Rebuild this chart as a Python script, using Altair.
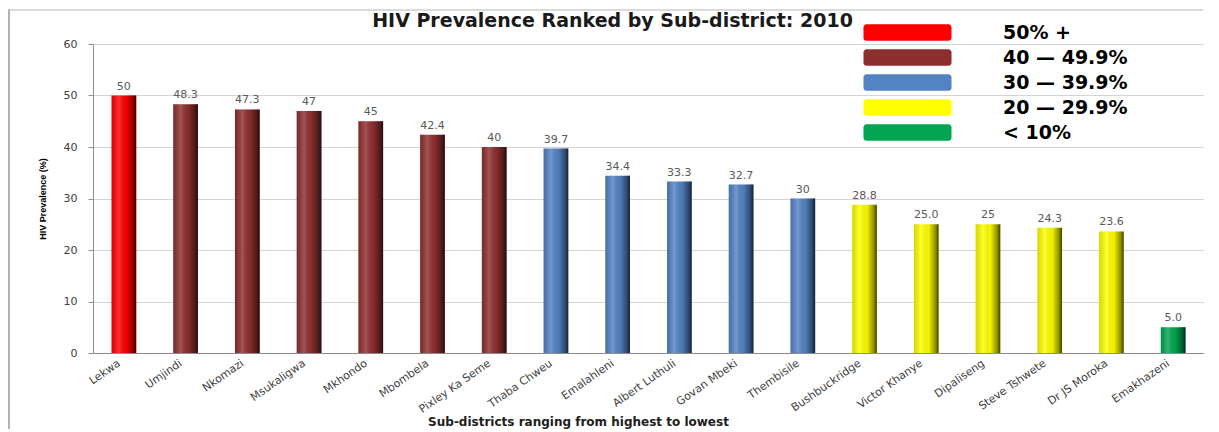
import altair as alt
import pandas as pd

districts = ["Lekwa", "Umjindi", "Nkomazi", "Msukaligwa", "Mkhondo", "Mbombela",
             "Pixley Ka Seme", "Thaba Chweu", "Emalahleni", "Albert Luthuli",
             "Govan Mbeki", "Thembisile", "Bushbuckridge", "Victor Khanye",
             "Dipaliseng", "Steve Tshwete", "Dr JS Moroka", "Emakhazeni"]
values = [50, 48.3, 47.3, 47, 45, 42.4, 40, 39.7, 34.4, 33.3, 32.7, 30,
          28.8, 25.0, 25, 24.3, 23.6, 5.0]
value_labels = ["50", "48.3", "47.3", "47", "45", "42.4", "40", "39.7", "34.4",
                "33.3", "32.7", "30", "28.8", "25.0", "25", "24.3", "23.6", "5.0"]
groups = ["50% +", "40 — 49.9%", "40 — 49.9%", "40 — 49.9%", "40 — 49.9%",
          "40 — 49.9%", "40 — 49.9%", "30 — 39.9%", "30 — 39.9%", "30 — 39.9%",
          "30 — 39.9%", "30 — 39.9%", "20 — 29.9%", "20 — 29.9%", "20 — 29.9%",
          "20 — 29.9%", "20 — 29.9%", "< 10%"]
legend_order = ["50% +", "40 — 49.9%", "30 — 39.9%", "20 — 29.9%", "< 10%"]
legend_colors = ["#FF0000", "#8E2F2F", "#5483C4", "#FFFF00", "#00A651"]
y_ticks = [0, 10, 20, 30, 40, 50, 60]

df = pd.DataFrame({"district": districts, "value": values,
                   "label": value_labels, "group": groups})

x = alt.X("district:N", sort=districts,
          scale=alt.Scale(paddingInner=0.6, paddingOuter=0.3),
          axis=alt.Axis(title="Sub-districts ranging from highest to lowest",
                        labelAngle=-35, labelFontSize=11, labelColor="#404040",
                        labelFont="DejaVu Sans", labelPadding=4, labelOffset=-8,
                        ticks=False, domainColor="#8C8C8C",
                        titleFont="DejaVu Sans", titleFontSize=12,
                        titleFontWeight="bold", titleColor="#202020",
                        titleX=485, titleY=63, titleAlign="center"))
y = alt.Y("value:Q", scale=alt.Scale(domain=[0, 60], nice=False),
          axis=alt.Axis(title="HIV Prevalence (%)", values=y_ticks,
                        labelFontSize=11, labelColor="#404040",
                        labelFont="DejaVu Sans", labelPadding=11, tickSize=5,
                        tickColor="#8C8C8C", domainColor="#8C8C8C",
                        gridColor="#D4D4D4", titleFont="Liberation Sans",
                        titleFontSize=9, titleFontWeight="bold",
                        titleColor="#000000", titlePadding=16))

base = alt.Chart(df).encode(x=x, y=y)

# wide rounded rectangle symbol (path units scaled by sqrt(size)/2)
rounded = ("M-4.65,-0.95H4.65A0.35,0.35 0 0 1 5,-0.6V0.6"
           "A0.35,0.35 0 0 1 4.65,0.95H-4.65A0.35,0.35 0 0 1 -5,0.6"
           "V-0.6A0.35,0.35 0 0 1 -4.65,-0.95Z")

bars = base.mark_bar().encode(
    color=alt.Color("group:N",
                    scale=alt.Scale(domain=legend_order, range=legend_colors),
                    legend=alt.Legend(title=None, orient="none", legendX=805,
                                      legendY=-21, symbolType=rounded,
                                      symbolSize=310, symbolStrokeWidth=0,
                                      labelFont="DejaVu Sans", labelFontSize=19,
                                      labelFontWeight="bold", labelColor="#000000",
                                      labelOffset=86, rowPadding=5, padding=0,
                                      labelLimit=300))
)

shade = base.mark_bar(color=alt.Gradient(
    gradient="linear", x1=0, x2=1, y1=0, y2=0,
    stops=[alt.GradientStop(color="rgba(0,0,0,0.15)", offset=0),
           alt.GradientStop(color="rgba(255,255,255,0.18)", offset=0.3),
           alt.GradientStop(color="rgba(0,0,0,0.05)", offset=0.6),
           alt.GradientStop(color="rgba(0,0,0,0.45)", offset=0.88),
           alt.GradientStop(color="rgba(0,0,0,0.75)", offset=1)]))

text = base.mark_text(dy=-9, fontSize=11, font="DejaVu Sans",
                      color="#595959").encode(text="label:N")

# decorative chart frame (left and top edges)
frame_df = pd.DataFrame({"frame": [0]})
frame_left = alt.Chart(frame_df).mark_rule(color="#9A9A9A", strokeWidth=1.5).encode(
    x=alt.value(-84), y=alt.value(-35), y2=alt.value(385))
frame_top = alt.Chart(frame_df).mark_rule(color="#CFCFCF", strokeWidth=1.5).encode(
    x=alt.value(-84), x2=alt.value(1110), y=alt.value(-34))

chart = alt.layer(frame_left, frame_top, bars, shade, text).properties(
    width=1111, height=309,
    title=alt.TitleParams("HIV Prevalence Ranked by Sub-district: 2010",
                          font="DejaVu Sans", fontSize=19, fontWeight="bold",
                          color="#1A1A1A", dx=-36, offset=-23),
    padding={"left": 0, "top": 0, "right": 0, "bottom": 0}
).configure_view(stroke=None).configure(background="white")

chart.save("out.html", embed_options={"renderer": "svg", "actions": False})
